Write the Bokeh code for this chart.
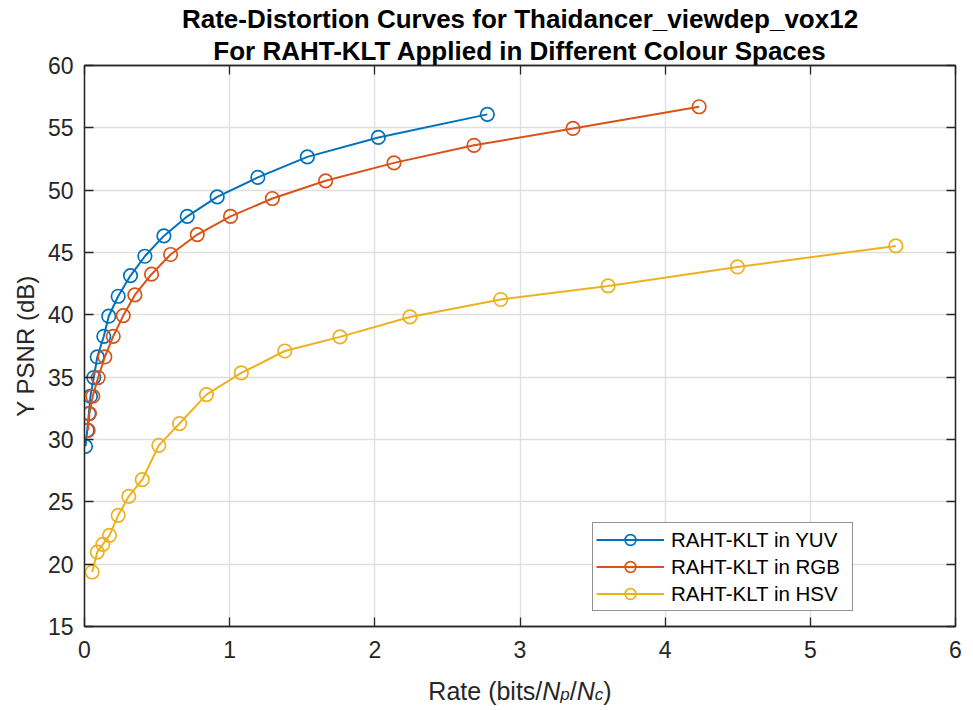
import math
from bokeh.plotting import figure
from bokeh.layouts import column
from bokeh.models import (Range1d, FixedTicker, LinearAxis, Label, Legend,
                          LegendItem, Title)
from bokeh.embed import file_html
from bokeh.resources import INLINE

# ---------------- data ----------------
yuv_rate = [0.007, 0.019, 0.030, 0.041, 0.064, 0.088, 0.133, 0.167, 0.232, 0.317,
            0.416, 0.547, 0.708, 0.914, 1.194, 1.535, 2.024, 2.775]
yuv_psnr = [29.45, 30.74, 32.08, 33.47, 34.97, 36.62, 38.28, 39.89, 41.49, 43.15,
            44.70, 46.33, 47.90, 49.46, 51.02, 52.67, 54.23, 56.08]

rgb_rate = [0.025, 0.034, 0.057, 0.094, 0.140, 0.198, 0.267, 0.347, 0.462, 0.593,
            0.777, 1.006, 1.294, 1.661, 2.132, 2.683, 3.365, 4.234]
rgb_psnr = [30.74, 32.08, 33.47, 34.97, 36.62, 38.28, 39.94, 41.60, 43.26, 44.84,
            46.44, 47.90, 49.33, 50.75, 52.19, 53.60, 54.95, 56.69]

hsv_rate = [0.053, 0.088, 0.126, 0.172, 0.232, 0.305, 0.398, 0.512, 0.655, 0.840,
            1.080, 1.380, 1.760, 2.242, 2.867, 3.607, 4.498, 5.589]
hsv_psnr = [19.37, 20.97, 21.59, 22.31, 23.92, 25.44, 26.78, 29.53, 31.28, 33.60,
            35.34, 37.10, 38.23, 39.83, 41.23, 42.32, 43.84, 45.53]

series_names = ["RAHT-KLT in YUV", "RAHT-KLT in RGB", "RAHT-KLT in HSV"]
x_ticks = [0, 1, 2, 3, 4, 5, 6]
y_ticks = [15, 20, 25, 30, 35, 40, 45, 50, 55, 60]
title_lines = ["Rate-Distortion Curves for Thaidancer_viewdep_vox12",
               "For RAHT-KLT Applied in Different Colour Spaces"]
y_label = "Y PSNR (dB)"

# ---------------- layout / style ----------------
W = 973
MAIN_H, BOT_H = 665, 45
ML, MR, MT, MB = 84, 18, 65, 39
FW = W - ML - MR
FONT = "Liberation Sans"
DARK = "#262626"
colors = ["#0072BD", "#D95319", "#EDB120"]
BASE_SHIFT = 8  # measured offset of alphabetic baseline in labels

p = figure(width=W, height=MAIN_H, output_backend="svg", toolbar_location=None,
           x_range=Range1d(0, 6), y_range=Range1d(15, 60),
           min_border_left=ML, min_border_right=MR,
           min_border_top=MT, min_border_bottom=MB)
p.background_fill_color = "white"
p.border_fill_color = "white"
p.outline_line_color = DARK
p.outline_line_width = 1.3

for ax in (p.xaxis[0], p.yaxis[0]):
    ax.axis_line_color = DARK
    ax.axis_line_width = 1.3
    ax.major_tick_line_color = DARK
    ax.major_tick_line_width = 1.3
    ax.major_tick_in = 9
    ax.major_tick_out = 0
    ax.minor_tick_in = 0
    ax.minor_tick_out = 0
    ax.major_label_text_font = FONT
    ax.major_label_text_font_size = "23px"
    ax.major_label_text_color = DARK
p.xaxis[0].ticker = FixedTicker(ticks=x_ticks)
p.yaxis[0].ticker = FixedTicker(ticks=y_ticks)
p.xaxis[0].major_label_standoff = 14
p.yaxis[0].major_label_standoff = 11
p.yaxis[0].axis_label = y_label
p.yaxis[0].axis_label_text_font = FONT
p.yaxis[0].axis_label_text_font_size = "24px"
p.yaxis[0].axis_label_text_font_style = "normal"
p.yaxis[0].axis_label_text_color = DARK
p.yaxis[0].axis_label_standoff = 6

# mirrored box ticks (no labels)
for loc, tk in (("right", y_ticks), ("above", x_ticks)):
    ax = LinearAxis(ticker=FixedTicker(ticks=tk))
    ax.axis_line_color = DARK
    ax.axis_line_width = 1.3
    ax.major_tick_line_color = DARK
    ax.major_tick_line_width = 1.3
    ax.major_tick_in = 9
    ax.major_tick_out = 0
    ax.minor_tick_in = 0
    ax.minor_tick_out = 0
    ax.major_label_text_color = None
    ax.major_label_text_font_size = "0px"
    ax.major_label_standoff = 0
    p.add_layout(ax, loc)

# two-line title (second line closest to the plot)
for txt in reversed(title_lines):
    p.add_layout(Title(text=txt, align="center", text_font=FONT,
                       text_font_size="26px", text_font_style="bold",
                       text_color="black", standoff=0, offset=0), "above")

p.xgrid.ticker = FixedTicker(ticks=x_ticks)
p.ygrid.ticker = FixedTicker(ticks=y_ticks)
for g in (p.xgrid[0], p.ygrid[0]):
    g.grid_line_color = "#dfdfdf"
    g.grid_line_width = 1.4

# ---------------- series ----------------
items = []
for name, xs, ys, c in zip(series_names, [yuv_rate, rgb_rate, hsv_rate],
                           [yuv_psnr, rgb_psnr, hsv_psnr], colors):
    ln = p.line(xs, ys, line_color=c, line_width=2)
    sc = p.scatter(xs, ys, marker="circle", size=13.5, fill_color=None,
                   line_color=c, line_width=1.7)
    items.append(LegendItem(label=name, renderers=[ln, sc]))

legend = Legend(items=items, location=(508, 15))
legend.label_text_font = FONT
legend.label_text_font_size = "20.5px"
legend.label_text_color = "black"
legend.glyph_width = 68
legend.glyph_height = 27
legend.label_height = 27
legend.label_width = 178
legend.label_standoff = 7
legend.spacing = 0
legend.padding = 3
legend.margin = 0
legend.border_line_color = DARK
legend.border_line_width = 1.3
legend.background_fill_color = "white"
legend.background_fill_alpha = 1.0
p.add_layout(legend)

# ---------------- x label strip: Rate (bits/N_p/N_c) ----------------
bot = figure(width=W, height=BOT_H, output_backend="svg", toolbar_location=None,
             x_range=Range1d(0, W), y_range=Range1d(0, BOT_H),
             x_axis_type=None, y_axis_type=None, min_border=0)
bot.outline_line_color = None
bot.background_fill_color = "white"
bot.border_fill_color = "white"

adv = {"R": .722, "a": .556, "t": .278, "e": .556, " ": .278, "(": .333, "b": .556,
       "i": .222, "s": .5, "/": .278, "N": .722, "p": .556, "c": .5, ")": .333}
F, S = 25, 17
pieces = [("Rate (bits/", F, "normal", 0), ("N", F, "italic", 0), ("p", S, "italic", -4),
          ("/", F, "normal", 0), ("N", F, "italic", 0), ("c", S, "italic", -4),
          (")", F, "normal", 0)]
widths = [sum(adv[ch] for ch in t) * fs for t, fs, _, _ in pieces]
x0 = FW / 2 - sum(widths) / 2
base = (MAIN_H + BOT_H) - 698 + BASE_SHIFT  # baseline at page y ~698
for (t, fs, st, off), w in zip(pieces, widths):
    bot.add_layout(Label(x=x0, y=base + off, x_units="screen", y_units="screen",
                         text=t, text_align="left", text_baseline="alphabetic",
                         text_font=FONT, text_font_size=f"{fs}px",
                         text_font_style=st, text_color=DARK))
    x0 += w

layout = column(p, bot, spacing=0)
open("out.html", "w").write(file_html(layout, INLINE))
